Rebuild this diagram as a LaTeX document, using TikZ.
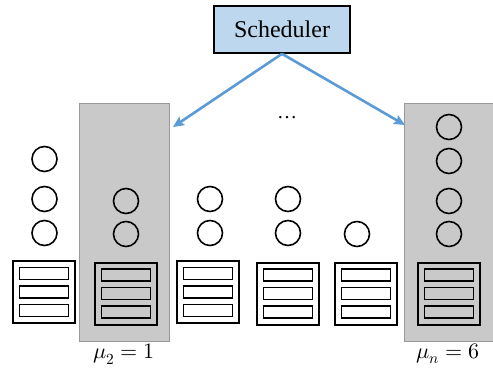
\documentclass[tikz,border=0pt]{standalone}
\usepackage{unicode-math}
\setmainfont{Liberation Serif}
\setmathfont{Latin Modern Math}
\usetikzlibrary{positioning, calc, arrows.meta}

\definecolor{schedblue}{RGB}{189,215,238}
\definecolor{arrowblue}{RGB}{91,155,213}
\definecolor{poolgray}{RGB}{201,201,201}

\begin{document}
\begin{tikzpicture}[x=1pt, y=-1pt,
		sched/.style={draw, line width=1.6pt, fill=schedblue, minimum width=136pt, minimum height=47pt, font=\fontsize{24}{28}\selectfont},
		dispatch/.style={draw=arrowblue, line width=2.6pt, -{Stealth[length=11pt, width=10pt, inset=2pt]}},
		pool/.style={draw=gray!80, line width=1pt, fill=poolgray},
		job/.style={draw, circle, line width=1.6pt, minimum size=25pt, inner sep=0pt},
		machine/.style={draw, line width=2pt, minimum width=62pt, minimum height=62pt, inner sep=0pt},
		slot/.style={draw, line width=1.8pt, minimum width=49pt, minimum height=12pt, inner sep=0pt},
		rate/.style={font=\fontsize{22}{26}\selectfont}]
	\useasboundingbox (0,0) rectangle (493,373);
	% highlighted machines
	\draw[pool] (79,103) rectangle (169,341);
	\draw[pool] (404,103) rectangle (495,341);
	% scheduler and dispatching arrows
	\node[sched] (scheduler) at (282,29.5) {Scheduler};
	\coordinate (tipleft) at (173,127);
	\coordinate (tipright) at (405,125);
	\draw[dispatch] (scheduler.south) -- (tipleft);
	\draw[dispatch] (scheduler.south) -- (tipright);
	\node[font=\fontsize{20}{24}\selectfont] (dots) at (287,118) {\ldots};
	% machines
	\foreach \name/\x/\y in {ma/44/292, mb/126/293.5, mc/208/292, md/288/293.5, me/366/293.5, mf/449/293.5} {
		\node[machine] (\name) at (\x,\y) {};
		\node[slot] (\name-top) at ($(\name.center)+(0,-18.5)$) {};
		\node[slot] (\name-mid) at (\name.center) {};
		\node[slot] (\name-bot) at ($(\name.center)+(0,18.5)$) {};
	}
	% waiting jobs
	\foreach \x/\y [count=\k] in {44.5/159, 44.5/199, 44.5/233, 126/201, 126/234, 210/199, 210/233,
			288/199, 288/233, 357/234, 449/127, 449/161, 449/201, 449/234} {
		\node[job] (job\k) at (\x,\y) {};
	}
	% service rates
	\node[rate] (ratetwo) at (124,354) {$\mu_2 = 1$};
	\node[rate] (raten) at (448,354) {$\mu_n = 6$};
\end{tikzpicture}
\end{document}
